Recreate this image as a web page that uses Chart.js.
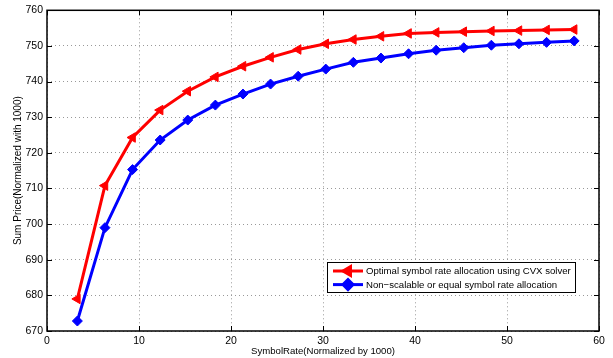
<!DOCTYPE html>
<html>
<head>
<meta charset="utf-8">
<script src="https://cdn.jsdelivr.net/npm/chart.js@4"></script>
<style>
  html, body { margin: 0; padding: 0; background: #fff; }
  #wrap { width: 613px; height: 358px; }
</style>
</head>
<body>
<div id="wrap"><canvas id="chart" width="613" height="358"></canvas></div>
<script>
// Symbol rate (normalized by 1000)
const symbolRate = [3.3, 6.3, 9.3, 12.3, 15.3, 18.3, 21.3, 24.3, 27.3, 30.3,
                    33.3, 36.3, 39.3, 42.3, 45.3, 48.3, 51.3, 54.3, 57.3];

// Sum price, optimal allocation (CVX)
const optimalPrice = [679, 710.8, 724.3, 732, 737.3, 741.3, 744.3, 746.8, 749, 750.6,
                      751.8, 752.7, 753.5, 753.8, 754, 754.2, 754.3, 754.5, 754.6];

// Sum price, equal allocation
const equalPrice = [672.8, 699, 715.3, 723.6, 729.2, 733.4, 736.5, 739.3, 741.5, 743.5,
                    745.4, 746.6, 747.8, 748.8, 749.5, 750.2, 750.6, 751, 751.4];

const seriesLabels = ['Optimal symbol rate allocation using CVX solver',
                      'Non\u2212scalable or equal symbol rate allocation'];

const xTicks = [0, 10, 20, 30, 40, 50, 60];
const yTicks = [670, 680, 690, 700, 710, 720, 730, 740, 750, 760];

const FONT = '"Liberation Sans", Arial, Helvetica, sans-serif';

const toPoints = ys => ys.map((y, i) => ({ x: symbolRate[i], y: y }));

// box around the axes, with inner tick marks on all four sides
const boxPlugin = {
    id: 'box',
    afterDraw(chart) {
        const { ctx, chartArea: a, scales } = chart;
        ctx.save();
        ctx.strokeStyle = '#000';
        ctx.lineWidth = 1;
        ctx.beginPath();
        xTicks.forEach(v => {
            const px = Math.round(scales.x.getPixelForValue(v)) + 0.5;
            ctx.moveTo(px, a.bottom); ctx.lineTo(px, a.bottom - 5);
            ctx.moveTo(px, a.top); ctx.lineTo(px, a.top + 5);
        });
        yTicks.forEach(v => {
            const py = Math.round(scales.y.getPixelForValue(v)) + 0.5;
            ctx.moveTo(a.left, py); ctx.lineTo(a.left + 5, py);
            ctx.moveTo(a.right, py); ctx.lineTo(a.right - 5, py);
        });
        ctx.stroke();
        ctx.lineWidth = 1.5;
        ctx.strokeRect(a.left, a.top, a.right - a.left, a.bottom - a.top);
        ctx.restore();
    }
};

// legend box inside the plot, lower right
const legendPlugin = {
    id: 'boxLegend',
    afterDraw(chart) {
        const { ctx, chartArea: a } = chart;
        const w = 248, h = 30;
        const x0 = a.right - 24 - w, y0 = a.bottom - 69;
        ctx.save();
        ctx.fillStyle = '#fff';
        ctx.fillRect(x0, y0, w, h);
        ctx.strokeStyle = '#000';
        ctx.lineWidth = 1;
        ctx.strokeRect(x0 + 0.5, y0 + 0.5, w, h);
        ctx.font = '9.6px ' + FONT;
        ctx.textBaseline = 'middle';
        chart.data.datasets.forEach((ds, i) => {
            const y = y0 + 9 + i * 13.6;
            ctx.strokeStyle = ds.borderColor;
            ctx.lineWidth = 3;
            ctx.beginPath();
            ctx.moveTo(x0 + 6, y); ctx.lineTo(x0 + 36, y);
            ctx.stroke();
            Chart.helpers.drawPoint(ctx, {
                pointStyle: ds.pointStyle,
                rotation: ds.pointRotation || 0,
                radius: 5,
                borderWidth: 1
            }, x0 + 21, y);
            ctx.fillStyle = ds.borderColor;
            ctx.fill();
            ctx.fillStyle = '#000';
            ctx.fillText(ds.label, x0 + 39, y + 0.5);
        });
        ctx.restore();
    }
};

new Chart(document.getElementById('chart'), {
    type: 'line',
    data: {
        datasets: [
            {
                label: seriesLabels[0],
                data: toPoints(optimalPrice),
                borderColor: '#ff0000',
                backgroundColor: '#ff0000',
                borderWidth: 3,
                pointStyle: 'triangle',
                pointRotation: -90,
                pointRadius: 5.5,
                pointBorderWidth: 1,
                tension: 0
            },
            {
                label: seriesLabels[1],
                data: toPoints(equalPrice),
                borderColor: '#0000ff',
                backgroundColor: '#0000ff',
                borderWidth: 3,
                pointStyle: 'rectRot',
                pointRadius: 5,
                pointBorderWidth: 1,
                tension: 0
            }
        ]
    },
    options: {
        responsive: false,
        animation: false,
        layout: { padding: { left: 12, top: 10, right: 14, bottom: 0 } },
        plugins: {
            legend: { display: false },
            tooltip: { enabled: false }
        },
        scales: {
            x: {
                type: 'linear',
                min: 0, max: 60,
                afterBuildTicks: s => { s.ticks = xTicks.map(v => ({ value: v })); },
                afterFit: s => { s.height = 27; },
                ticks: { color: '#000', font: { family: FONT, size: 10.5 }, padding: 4, maxRotation: 0 },
                grid: { color: '#999', lineWidth: 1, drawTicks: false },
                border: { display: false, dash: [1, 3] },
                title: {
                    display: true,
                    text: 'SymbolRate(Normalized by 1000)',
                    color: '#000',
                    font: { family: FONT, size: 9.6 },
                    padding: { top: 0, bottom: 1 }
                }
            },
            y: {
                type: 'linear',
                min: 670, max: 760,
                afterBuildTicks: s => { s.ticks = yTicks.map(v => ({ value: v })); },
                afterFit: s => { s.width = 35; },
                ticks: { color: '#000', font: { family: FONT, size: 10.5 }, padding: 4 },
                grid: { color: '#999', lineWidth: 1, drawTicks: false },
                border: { display: false, dash: [1, 3] },
                title: {
                    display: true,
                    text: 'Sum Price(Normalized with 1000)',
                    color: '#000',
                    font: { family: FONT, size: 10 },
                    padding: 0
                }
            }
        }
    },
    plugins: [boxPlugin, legendPlugin]
});
</script>
</body>
</html>
